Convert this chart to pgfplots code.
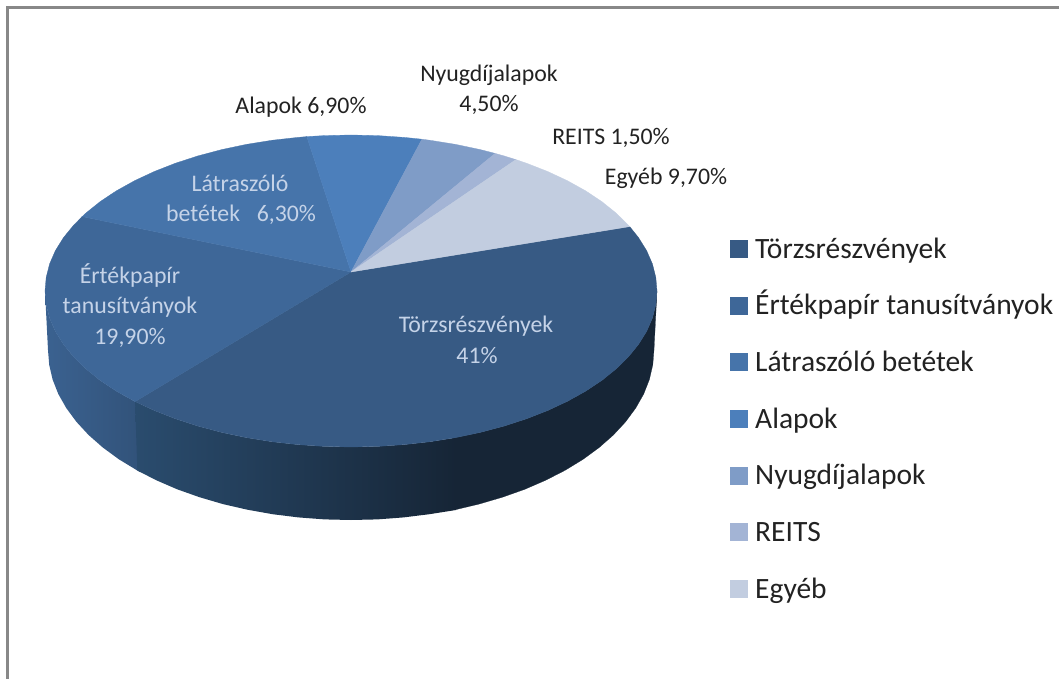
\documentclass[border=0pt]{standalone}
\usepackage{fontspec}
\setmainfont{Carlito}
\usepackage{pgfplots}
\pgfplotsset{compat=1.18}
\definecolor{c1}{HTML}{375A84}
\definecolor{c2}{HTML}{3E6798}
\definecolor{c3}{HTML}{4674AA}
\definecolor{c4}{HTML}{4C7FBB}
\definecolor{c5}{HTML}{7F9CC7}
\definecolor{c6}{HTML}{A3B4D5}
\definecolor{c7}{HTML}{C2CDE0}
\definecolor{lt}{HTML}{C5D3E8}
\definecolor{dk}{HTML}{222222}
\definecolor{frame}{HTML}{888888}
\definecolor{sa}{HTML}{2A4C6E}
\definecolor{sb}{HTML}{162536}
\begin{document}
\begin{tikzpicture}
\begin{axis}[
  scale only axis, width=1059pt, height=679pt,
  xmin=0, xmax=1059, ymin=0, ymax=679, y dir=reverse,
  hide axis,
  legend cell align=left,
  legend image code/.code={\path[draw=none,#1] (0pt,-9pt) rectangle (18pt,9pt); \path (25pt,0pt);},
  legend style={draw=none, fill=none, at={(axis cs:730,236)}, anchor=north west,
    font=\fontsize{29.5}{33}\selectfont, text=dk, row sep=30.67pt,
    inner sep=0pt, outer sep=0pt,
    nodes={text height=22pt, text depth=4pt, inner sep=0pt, anchor=west}},
]
% page extent
\addplot[forget plot, draw=none, mark=none] coordinates {(0,0)(1059,679)};
% frame
\addplot[forget plot, frame, line width=2.5pt, mark=none] coordinates {(7.5,679)(7.5,7.5)(1059,7.5)};
% sides
\addplot[forget plot, draw=none, mark=none, left color=c2!95!black, right color=c2!80!black] coordinates {
 (45,291)(46.2,304.6)(49.6,318.1)(55.4,331.4)(63.5,344.4)(73.7,356.9)(86,369)(100.3,380.5)(116.6,391.3)(135.1,401.6)(140,404)
 (140,472)(137.3,470.5)(118.9,459.3)(102.8,447.5)(88.6,435)(76.4,421.8)(66.3,408.1)(58.3,394)(52.6,379.5)(49.2,364.8)(48,350)(45,291)};
\addplot[forget plot, draw=none, mark=none, left color=sa, right color=sb] coordinates {
 (135.1,401.6)(154.3,410.5)(175.5,418.8)(198,426.1)(221.7,432.4)(246.3,437.6)(271.8,441.7)(297.9,444.6)(324.3,446.4)(351,447)
 (377.7,446.4)(404.1,444.6)(430.2,441.7)(456,437.6)
 (456,510)(429.4,514.2)(403.6,517.4)(377.4,519.4)
 (351,520)(324.6,519.4)(298.4,517.4)(272.6,514.2)(247.4,509.7)(223,504.1)(199.5,497.2)(177.2,489.3)(156.2,480.2)(137.3,470.5)(135.1,401.6)};
\addplot[forget plot, sb, fill=sb, line width=0.2pt, mark=none] coordinates {
 (455,437.6)(480.3,432.4)(504,426.1)(526.5,418.8)(547.7,410.5)(567.4,401.3)(585.4,391.3)
 (601.7,380.5)(616,369)(628.3,356.9)(638.5,344.4)(646.6,331.4)(652.4,318.1)(655.8,304.6)(657,291)
 (654,350)(652.8,364.8)(649.4,379.5)(643.7,394)(635.7,408.1)(625.6,421.8)(613.4,435)(599.2,447.5)(583.1,459.3)(565.3,470.2)(545.8,480.2)
 (524.8,489.3)(502.5,497.2)(479,504.1)(455,509.8)(455,437.6)};
% tops
\addplot[forget plot, c1, fill=c1, line width=0.3pt, mark=none] coordinates {
 (351,272)(135.1,401.6)(154.3,410.5)(175.5,418.8)(198,426.1)(221.7,432.4)(246.3,437.6)(271.8,441.7)(297.9,444.6)(324.3,446.4)(351,447)
 (377.7,446.4)(404.1,444.6)(430.2,441.7)(455.7,437.6)(480.3,432.4)(504,426.1)(526.5,418.8)(547.7,410.5)(567.4,401.3)(585.4,391.3)
 (601.7,380.5)(616,369)(628.3,356.9)(638.5,344.4)(646.6,331.4)(652.4,318.1)(655.8,304.6)(657,291)
 (655.8,277.4)(652.4,263.9)(646.6,250.6)(638.5,237.6)(629.7,226.6)(351,272)};
\addplot[forget plot, c2, fill=c2, line width=0.3pt, mark=none] coordinates {
 (351,272)(82.1,216.6)(73.7,225.1)(63.5,237.6)(55.4,250.6)(49.6,263.9)(46.2,277.4)(45,291)(46.2,304.6)(49.6,318.1)(55.4,331.4)(63.5,344.4)
 (73.7,356.9)(86,369)(100.3,380.5)(116.6,391.3)(135.1,401.6)(351,272)};
\addplot[forget plot, c3, fill=c3, line width=0.3pt, mark=none] coordinates {
 (351,272)(306.8,136.6)(297.9,137.4)(271.8,140.3)(246.3,144.4)(221.7,149.6)(198,155.9)(175.5,163.2)(154.3,171.5)(134.6,180.7)(116.6,190.7)
 (100.3,201.5)(86,213)(82.1,216.6)(351,272)};
\addplot[forget plot, c4, fill=c4, line width=0.3pt, mark=none] coordinates {
 (351,272)(421.9,139.2)(404.1,137.4)(377.7,135.6)(351,135)(324.3,135.6)(306.8,136.6)(351,272)};
\addplot[forget plot, c5, fill=c5, line width=0.3pt, mark=none] coordinates {
 (351,272)(495.1,153.4)(480.3,149.6)(455.7,144.4)(430.2,140.3)(421.9,139.2)(351,272)};
\addplot[forget plot, c6, fill=c6, line width=0.3pt, mark=none] coordinates {
 (351,272)(515.9,159.6)(504,155.9)(495.1,153.4)(351,272)};
\addplot[forget plot, c7, fill=c7, line width=0.3pt, mark=none] coordinates {
 (351,272)(629.7,226.6)(616,213)(601.7,201.5)(585.4,190.7)(567.4,180.7)(547.7,171.5)(526.5,163.2)(515.9,159.6)(351,272)};
% legend
\addlegendimage{fill=c1}\addlegendentry{Törzsrészvények}
\addlegendimage{fill=c2}\addlegendentry{Értékpapír tanusítványok}
\addlegendimage{fill=c3}\addlegendentry{Látraszóló betétek}
\addlegendimage{fill=c4}\addlegendentry{Alapok}
\addlegendimage{fill=c5}\addlegendentry{Nyugdíjalapok}
\addlegendimage{fill=c6}\addlegendentry{REITS}
\addlegendimage{fill=c7}\addlegendentry{Egyéb}
% labels
\tikzset{lab/.style={anchor=base, font=\fontsize{23.8}{27}\selectfont, inner sep=0pt}}
\node[lab,text=dk] at (axis cs:301,114) {Alapok 6,90\%};
\node[lab,text=dk] at (axis cs:489,82) {Nyugdíjalapok};
\node[lab,text=dk] at (axis cs:489,112) {4,50\%};
\node[lab,text=dk] at (axis cs:611,145) {REITS 1,50\%};
\node[lab,text=dk] at (axis cs:666,184) {Egyéb 9,70\%};
\node[lab,text=lt] at (axis cs:240,191) {Látraszóló};
\node[lab,text=lt] at (axis cs:241,221) {betétek\hspace{0.7em}6,30\%};
\node[lab,text=lt] at (axis cs:130,283) {Értékpapír};
\node[lab,text=lt] at (axis cs:130,313) {tanusítványok};
\node[lab,text=lt] at (axis cs:130,344) {19,90\%};
\node[lab,text=lt] at (axis cs:476,332) {Törzsrészvények};
\node[lab,text=lt] at (axis cs:477,363) {41\%};
\end{axis}
\end{tikzpicture}
\end{document}
